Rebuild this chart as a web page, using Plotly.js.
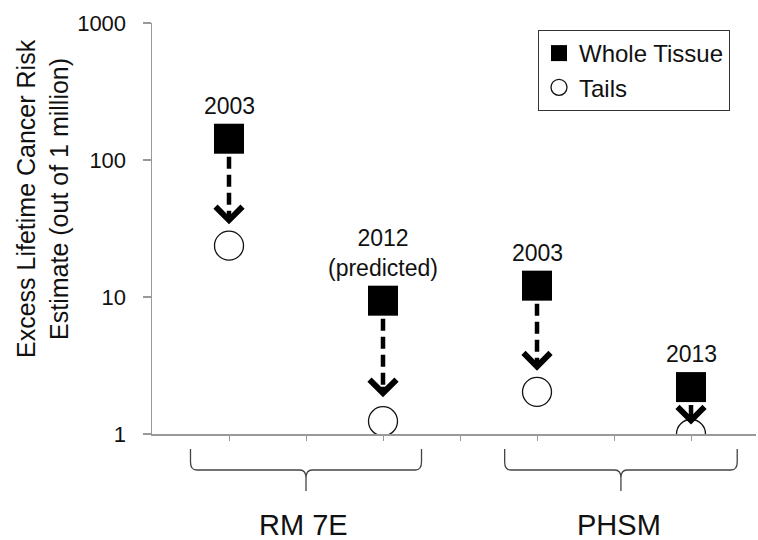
<!DOCTYPE html>
<html>
<head>
<meta charset="utf-8">
<script src="https://cdn.plot.ly/plotly-3.0.1.min.js"></script>
<style>html,body{margin:0;padding:0;background:#fff;}#chart{width:758px;height:540px;}</style>
</head>
<body>
<div id="chart"></div>
<script>
// ---- data ----
const positions   = [1, 3, 5, 7];                 // x slot of each measurement
const yearLabels  = ['2003', '2012<br>(predicted)', '2003', '2013'];
const wholeTissue = [143, 9.4, 12.1, 2.2];
const tails       = [23.7, 1.24, 2.03, 1.0];
const groupNames  = ['RM 7E', 'PHSM'];
const yTickVals   = [1, 10, 100, 1000];
const yTickText   = ['1', '10', '100', '1000'];
const xTickVals   = [1, 2, 3, 4, 5, 6, 7];

// ---- layout constants ----
const FONT = 'Liberation Sans, Arial, sans-serif';
const braceSpans = [[0.5, 3.5], [4.58, 7.6]];
const MT = 23, PB = 434, PH = PB - MT;
const p = px => (PB - px) / PH;   // pixel row -> paper y

// arrow tips (a little above each circle)
const tips = wholeTissue.map((w, i) => {
  const d = Math.log10(w) - Math.log10(tails[i]);
  return tails[i] * Math.pow(10, Math.min(0.175, 0.2 * d));
});

const lineX = [], lineY = [];
positions.forEach((x, i) => {
  lineX.push(x, x, null);
  lineY.push(wholeTissue[i], tips[i] * Math.pow(10, 0.06), null);
});

const traces = [
  {x: lineX, y: lineY, mode: 'lines', showlegend: false, hoverinfo: 'skip',
   line: {color: '#000', width: 4.5, dash: '12px,6px'}},
  {x: positions, y: wholeTissue, name: 'Whole Tissue', mode: 'markers',
   marker: {symbol: 'square', size: 30, color: '#000', line: {width: 0}}},
  {x: positions, y: tails, name: 'Tails', mode: 'markers',
   marker: {symbol: 'circle', size: 29, color: '#fff', line: {color: '#111', width: 1.3}}}
];

const annotations = [];
positions.forEach((x, i) => {
  annotations.push({x: x, y: Math.log10(wholeTissue[i]), xref: 'x', yref: 'y',
    text: yearLabels[i], showarrow: false, yanchor: 'bottom', yshift: 18,
    font: {family: FONT, size: 23, color: '#111'}});
  annotations.push({x: x, y: Math.log10(tips[i]), xref: 'x', yref: 'y', text: '',
    showarrow: true, arrowhead: 4, arrowsize: 1.3, arrowwidth: 4, arrowcolor: '#000',
    ax: 0, ay: -12});
});
annotations.push({xref: 'paper', yref: 'paper', x: (42 - 152) / 604, y: p(199),
  text: 'Excess Lifetime Cancer Risk<br>Estimate (out of 1 million)', textangle: -90,
  showarrow: false, xanchor: 'center', yanchor: 'middle',
  font: {family: FONT, size: 25, color: '#111'}});

const shapes = [];
braceSpans.forEach((s, g) => {
  const x0 = s[0], x1 = s[1], xc = (x0 + x1) / 2, d = 0.08;
  const yT = p(449), yT2 = p(462), yH = p(470), yC = p(478), yTip = p(491);
  const path = `M${x0},${yT} L${x0},${yT2} Q${x0},${yH} ${x0 + d},${yH} L${xc - d},${yH} ` +
    `Q${xc},${yH} ${xc},${yC} L${xc},${yTip} M${xc},${yC} Q${xc},${yH} ${xc + d},${yH} ` +
    `L${x1 - d},${yH} Q${x1},${yH} ${x1},${yT2} L${x1},${yT}`;
  shapes.push({type: 'path', xref: 'x', yref: 'paper', path: path,
    line: {color: '#444', width: 1.3}});
  annotations.push({xref: 'x', yref: 'paper', x: xc - 0.03, y: p(525), text: groupNames[g],
    showarrow: false, xanchor: 'center', yanchor: 'middle',
    font: {family: FONT, size: 29, color: '#111'}});
});

const layout = {
  width: 758, height: 540,
  margin: {l: 152, r: 2, t: MT, b: 540 - PB},
  paper_bgcolor: '#fff', plot_bgcolor: '#fff',
  font: {family: FONT, color: '#111'},
  showlegend: true,
  legend: {x: (538 - 152) / 604, y: p(30), xanchor: 'left', yanchor: 'top',
    bordercolor: '#333', borderwidth: 1, bgcolor: '#fff',
    font: {family: FONT, size: 24, color: '#111'}},
  xaxis: {range: [0, 7.844], tickvals: xTickVals, showticklabels: false,
    ticks: 'outside', ticklen: 5, tickcolor: '#999', tickwidth: 1,
    showline: true, linecolor: '#999', linewidth: 1.5, showgrid: false, zeroline: false},
  yaxis: {type: 'log', range: [0, 3], tickvals: yTickVals, ticktext: yTickText,
    ticks: 'outside', ticklen: 8, tickcolor: '#999', tickwidth: 1.3,
    ticklabelstandoff: 12,
    tickfont: {family: FONT, size: 22, color: '#111'},
    showline: true, linecolor: '#999', linewidth: 1.5, showgrid: false, zeroline: false},
  annotations: annotations,
  shapes: shapes
};

Plotly.newPlot('chart', traces, layout, {staticPlot: true, displayModeBar: false});
</script>
</body>
</html>
